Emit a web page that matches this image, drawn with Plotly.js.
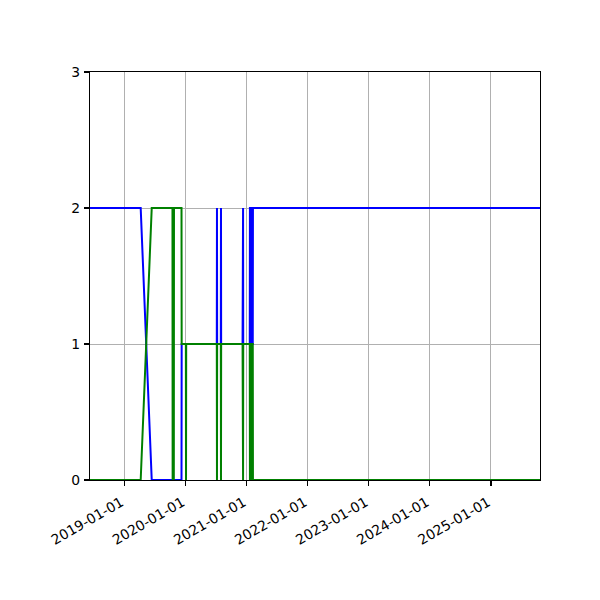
<!DOCTYPE html>
<html>
<head>
<meta charset="utf-8">
<script src="https://cdn.plot.ly/plotly-3.0.1.min.js"></script>
<style>
  body { margin: 0; background: #fff; }
  #chart { width: 600px; height: 600px; }
</style>
</head>
<body>
<div id="chart"></div>
<script>
// breakpoints of the two step series (linear between points)
var dates = [
  '2018-06-10', '2019-04-09', '2019-06-14', '2019-10-16', '2019-10-17',
  '2019-10-24', '2019-10-25', '2019-12-09', '2019-12-10', '2020-01-04',
  '2020-01-05', '2020-01-06', '2020-07-07', '2020-07-08', '2020-07-09',
  '2020-07-31', '2020-08-01', '2020-08-02', '2020-12-08', '2020-12-09',
  '2020-12-11', '2020-12-12', '2021-01-20', '2021-01-21', '2021-01-29',
  '2021-01-30', '2021-02-07', '2021-02-08', '2025-10-21'
];
var blueVals = [
  2, 2, 0, 0, 0,
  0, 0, 0, 1, 1,
  1, 1, 1, 2, 1,
  1, 2, 1, 1, 2,
  2, 1, 1, 2, 2,
  1, 1, 2, 2
];
var greenVals = [
  0, 0, 2, 2, 0,
  0, 2, 2, 1, 1,
  0, 1, 1, 0, 1,
  1, 0, 1, 1, 0,
  0, 1, 1, 0, 0,
  1, 1, 0, 0
];
var tickDates = ['2019-01-01', '2020-01-01', '2021-01-01', '2022-01-01',
                 '2023-01-01', '2024-01-01', '2025-01-01'];
var xRange = ['2018-06-10', '2025-10-21'];

var traces = [
  { x: dates, y: blueVals, type: 'scatter', mode: 'lines',
    line: { color: '#0000ff', width: 2 }, showlegend: false },
  { x: dates, y: greenVals, type: 'scatter', mode: 'lines',
    line: { color: '#008000', width: 2 }, showlegend: false }
];

var axisStyle = {
  showline: true, mirror: true, linecolor: '#000', linewidth: 1.1,
  ticks: 'outside', ticklen: 5, tickwidth: 1.1, tickcolor: '#000',
  showgrid: true, gridcolor: '#b0b0b0', gridwidth: 1,
  zeroline: false,
  tickfont: { family: 'DejaVu Sans', size: 13.9, color: '#000' }
};

var layout = {
  width: 600, height: 600,
  margin: { l: 90, r: 60, t: 72, b: 120 },
  paper_bgcolor: '#fff', plot_bgcolor: '#fff',
  xaxis: Object.assign({}, axisStyle, {
    type: 'date', range: xRange,
    tickvals: tickDates, ticktext: tickDates, tickangle: -30,
    ticklabelstandoff: 3, ticklabelshift: -3
  }),
  yaxis: Object.assign({}, axisStyle, {
    range: [0, 3], tickvals: [0, 1, 2, 3], ticklabelstandoff: 1
  })
};

Plotly.newPlot('chart', traces, layout, { staticPlot: true });
</script>
</body>
</html>
